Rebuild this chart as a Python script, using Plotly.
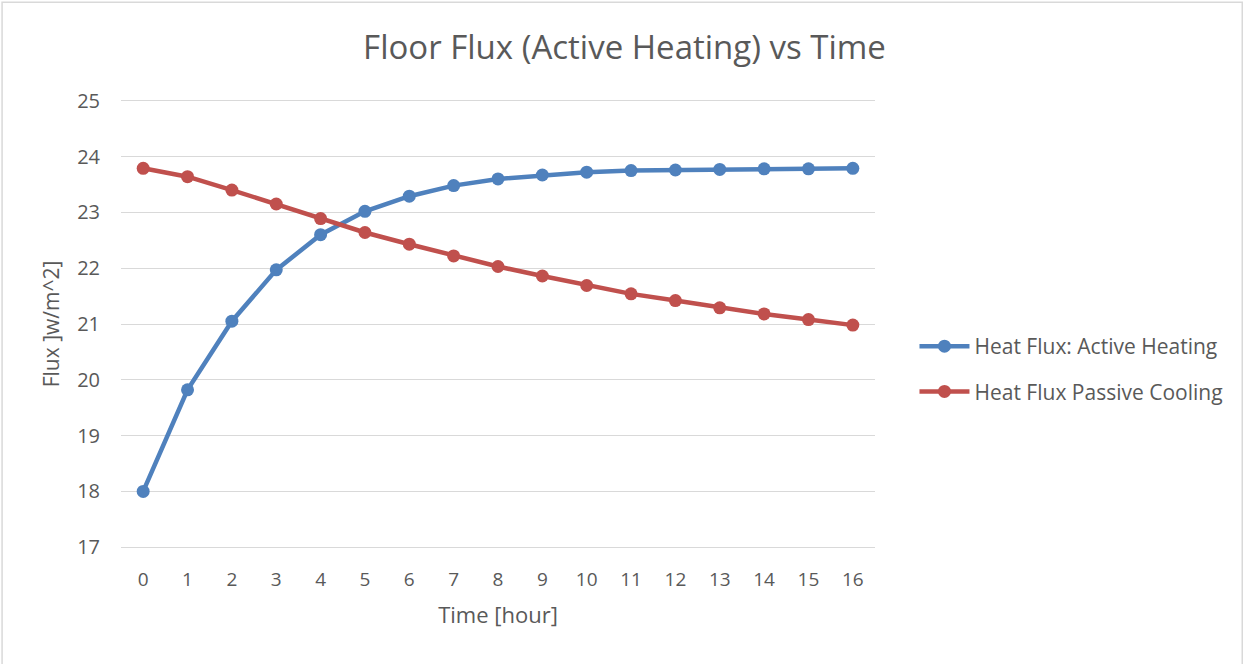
import plotly.graph_objects as go

hours = list(range(17))
active_heating = [18.00, 19.82, 21.05, 21.97, 22.60, 23.02, 23.29, 23.48, 23.60,
                  23.67, 23.72, 23.75, 23.76, 23.77, 23.78, 23.78, 23.79]
passive_cooling = [23.79, 23.64, 23.40, 23.15, 22.89, 22.64, 22.43, 22.22, 22.03,
                   21.86, 21.69, 21.54, 21.42, 21.29, 21.18, 21.08, 20.98]
y_ticks = list(range(17, 26))

BLUE = "#4F81BD"
RED = "#C0504D"
TXT = "#595959"
FONT = "Open Sans"

fig = go.Figure()
fig.add_trace(go.Scatter(x=hours, y=active_heating, mode="lines+markers",
                         name="Heat Flux: Active Heating", legendgroup="a",
                         line=dict(color=BLUE, width=4.5),
                         marker=dict(color=BLUE, size=13)))
fig.add_trace(go.Scatter(x=hours, y=passive_cooling, mode="lines+markers",
                         name="Heat Flux Passive Cooling", legendgroup="b",
                         line=dict(color=RED, width=4.5),
                         marker=dict(color=RED, size=13)))

W, H = 1247, 664
ml, mr, mt, mb = 121, 371.5, 97.9, 113.9
pw = W - ml - mr
ph = H - mt - mb

fig.update_layout(
    width=W, height=H,
    margin=dict(l=ml, r=mr, t=mt, b=mb),
    paper_bgcolor="white", plot_bgcolor="white",
    font=dict(family=FONT, color=TXT, size=19),
    title=dict(text="Floor Flux (Active Heating) vs Time", x=624.5 / W,
               xanchor="center", y=1 - 47 / H, yanchor="middle",
               font=dict(size=33, color=TXT, family=FONT)),
    xaxis=dict(range=[-0.5, 16.5], tickmode="array", tickvals=hours,
               ticktext=[str(h) for h in hours], showgrid=False, zeroline=False,
               showline=False, ticks="", tickfont=dict(size=19, color=TXT),
               ticklabelstandoff=16,
               title=dict(text="Time [hour]", font=dict(size=22, color=TXT), standoff=16)),
    yaxis=dict(range=[16.95, 25.05], tickmode="array", tickvals=y_ticks,
               showgrid=True, gridcolor="#D9D9D9", gridwidth=1.3, zeroline=False,
               showline=False, ticks="", tickfont=dict(size=20, color=TXT),
               ticklabelstandoff=20,
               title=dict(text="Flux ]w/m^2]", font=dict(size=21, color=TXT), standoff=11)),
    legend=dict(x=(915 - ml) / pw, xanchor="left", y=(H - mb - 369) / ph, yanchor="middle",
                font=dict(size=21, color=TXT), tracegroupgap=15, bgcolor="rgba(0,0,0,0)",
                itemwidth=50),
    showlegend=True,
)

# outer chart border
fig.add_shape(type="rect", xref="paper", yref="paper",
              x0=(2 - ml) / pw, x1=(1243 - ml) / pw,
              y0=(H - mb - 667) / ph, y1=(H - mb - 2) / ph,
              line=dict(color="#D9D9D9", width=1.5), fillcolor="rgba(0,0,0,0)", layer="below")

fig.write_html("out.html")
